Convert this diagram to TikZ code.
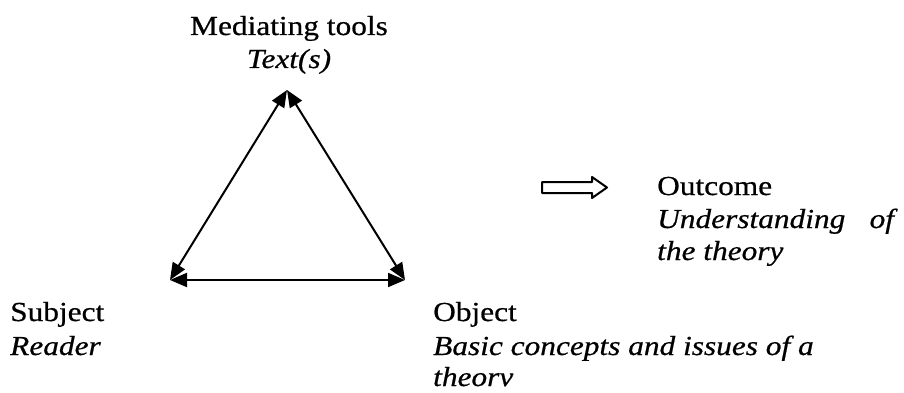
\documentclass[tikz,border=0pt]{standalone}
\usepackage{fontspec}
\setmainfont[FakeStretch=1.14,FakeBold=0.6]{Liberation Serif}
\usetikzlibrary{arrows.meta}
\tikzset{
  lbl/.style={inner sep=0pt, anchor=base west, font=\fontsize{27.5}{33}\selectfont},
  lblc/.style={inner sep=0pt, anchor=base, font=\fontsize{27.5}{33}\selectfont},
  ital/.style={font=\fontsize{27.5}{33}\selectfont\itshape},
  tri/.style={line width=2pt, {Triangle[length=17pt,width=14pt]}-{Triangle[length=17pt,width=14pt]}},
  hollow/.style={line width=2pt, line join=round, fill=white}
}
\begin{document}
\begin{tikzpicture}[x=1pt,y=-1pt]
\useasboundingbox (0,0) rectangle (904,393);
% labels
\node[lblc] (medA) at (289,35) {Mediating tools};
\node[lblc,ital] (medB) at (289,68) {Text(s)};
\node[lbl] (subA) at (10,321) {Subject};
\node[lbl,ital] (subB) at (10,355) {Reader};
\node[lbl] (objA) at (433,321) {Object};
\node[lbl,ital] (objB) at (433,355) {Basic concepts and issues of a};
\node[lbl,ital] (objC) at (433,386) {theorv};
\node[lbl] (outA) at (657,195) {Outcome};
\node[lbl,ital] (outB) at (657,228) {Understanding\hspace{0.6em} of};
\node[lbl,ital] (outC) at (657,260) {the theory};
% triangle
\coordinate (T) at (287,90);
\coordinate (L) at (170,280);
\coordinate (R) at (405,280);
\draw[tri] (T) -- (L);
\draw[tri] (T) -- (R);
\draw[tri] (L) -- (R);
% hollow arrow
\draw[hollow] (542,182) -- (592,182) -- (592,177) -- (607,187.5) -- (592,198) -- (592,193) -- (542,193) -- cycle;
\end{tikzpicture}
\end{document}
